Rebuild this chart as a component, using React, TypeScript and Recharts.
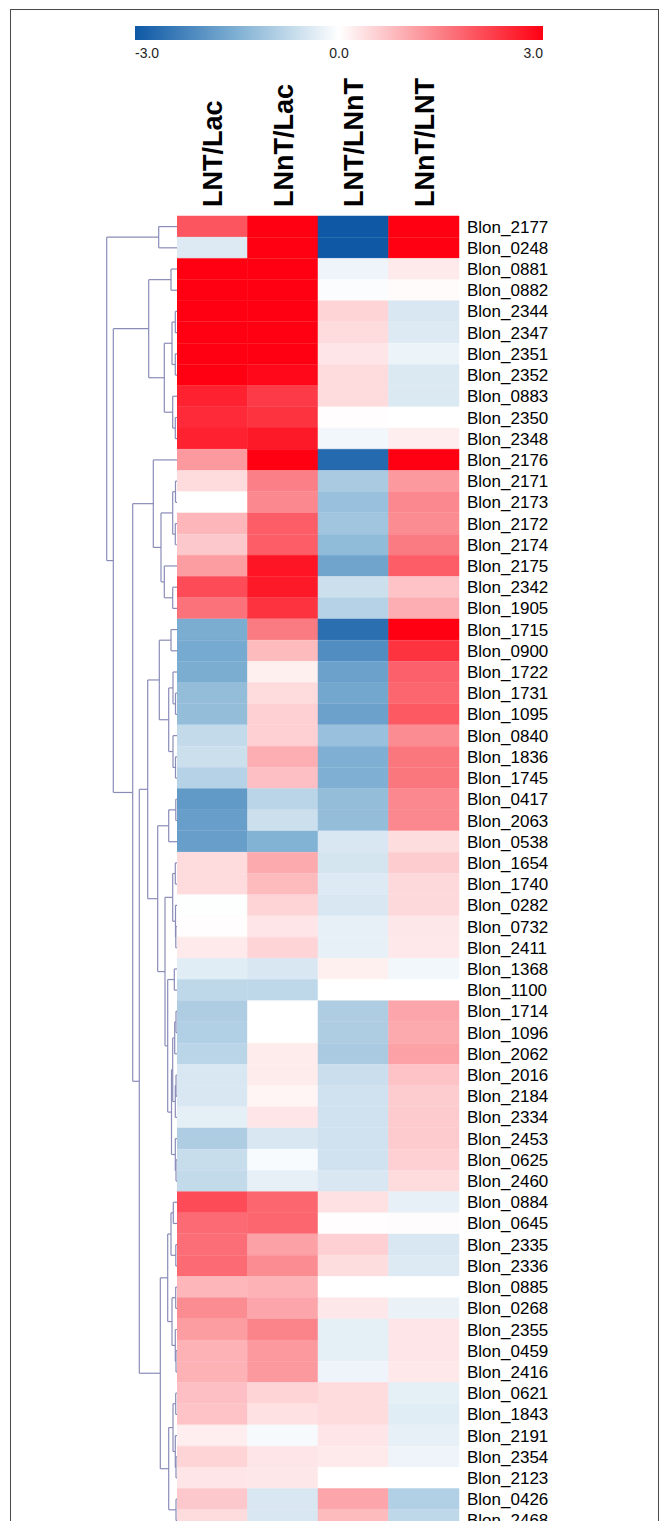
import React from "react";
import {
  Bar,
  BarChart,
  Cell,
  ComposedChart,
  ReferenceLine,
  XAxis,
  YAxis,
} from "recharts";

const genes = [
  "Blon_2177", "Blon_0248", "Blon_0881", "Blon_0882", "Blon_2344", "Blon_2347",
  "Blon_2351", "Blon_2352", "Blon_0883", "Blon_2350", "Blon_2348", "Blon_2176",
  "Blon_2171", "Blon_2173", "Blon_2172", "Blon_2174", "Blon_2175", "Blon_2342",
  "Blon_1905", "Blon_1715", "Blon_0900", "Blon_1722", "Blon_1731", "Blon_1095",
  "Blon_0840", "Blon_1836", "Blon_1745", "Blon_0417", "Blon_2063", "Blon_0538",
  "Blon_1654", "Blon_1740", "Blon_0282", "Blon_0732", "Blon_2411", "Blon_1368",
  "Blon_1100", "Blon_1714", "Blon_1096", "Blon_2062", "Blon_2016", "Blon_2184",
  "Blon_2334", "Blon_2453", "Blon_0625", "Blon_2460", "Blon_0884", "Blon_0645",
  "Blon_2335", "Blon_2336", "Blon_0885", "Blon_0268", "Blon_2355", "Blon_0459",
  "Blon_2416", "Blon_0621", "Blon_1843", "Blon_2191", "Blon_2354", "Blon_2123",
  "Blon_0426", "Blon_2468",
];

const columns = ["LNT/Lac", "LNnT/Lac", "LNT/LNnT", "LNnT/LNT"];

const lntLac = [
  2.0, -0.4, 3, 3, 3, 3, 3, 3, 2.6, 2.5, 2.6,
  1.2, 0.42, 0, 0.85, 0.65, 1.15, 2.1, 1.65,
  -1.55, -1.6, -1.55, -1.25, -1.25, -0.7, -0.6, -0.85, -1.9, -1.8, -1.8,
  0.42, 0.42, -0.02, 0.02, 0.25, -0.35, -0.75, -0.95, -0.9, -0.8, -0.45, -0.45,
  -0.3, -0.95, -0.65, -0.7,
  2.1, 1.75, 1.7, 1.75, 0.85, 1.35, 1.15, 0.9, 0.9, 0.75, 0.7, 0.2, 0.5, 0.3,
  0.65, 0.42,
];

const lnntLac = [
  3, 3, 3, 3, 3, 3, 3, 2.9, 2.3, 2.4, 2.7,
  3, 1.5, 1.4, 1.9, 1.9, 2.75, 2.7, 2.4,
  1.55, 0.8, 0.18, 0.42, 0.55, 0.55, 0.95, 0.75, -0.8, -0.6, -1.45,
  1.0, 0.8, 0.5, 0.3, 0.5, -0.45, -0.75, 0, 0, 0.22, 0.22, 0.12,
  0.3, -0.45, -0.08, -0.28,
  1.8, 1.8, 1.1, 1.35, 0.9, 1.05, 1.45, 1.2, 1.2, 0.5, 0.35, -0.1, 0.3, 0.28,
  -0.45, -0.45,
];

const lntLnnt = [
  -3, -3, -0.2, -0.05, 0.5, 0.42, 0.3, 0.42, 0.42, 0.02, -0.15,
  -2.7, -1.0, -1.2, -1.1, -1.3, -1.7, -0.6, -0.85,
  -2.6, -2.1, -1.75, -1.65, -1.75, -1.2, -1.5, -1.5, -1.25, -1.25, -0.45,
  -0.5, -0.4, -0.45, -0.28, -0.28, 0.18, 0, -0.95, -0.95, -1.0, -0.62, -0.55,
  -0.55, -0.55, -0.55, -0.45,
  0.35, 0.02, 0.55, 0.4, 0, 0.28, -0.3, -0.3, -0.2, 0.42, 0.42, 0.3, 0.25, 0,
  1.05, 0.8,
];

const lnntLnt = [
  3, 3, 0.25, 0.05, -0.45, -0.4, -0.22, -0.42, -0.42, 0, 0.2,
  3, 1.2, 1.4, 1.35, 1.55, 1.9, 0.7, 0.95,
  3, 2.4, 1.85, 1.8, 1.95, 1.35, 1.6, 1.6, 1.4, 1.4, 0.4,
  0.6, 0.45, 0.45, 0.28, 0.27, -0.15, 0, 1.05, 1.0, 1.1, 0.7, 0.6,
  0.62, 0.62, 0.55, 0.42,
  -0.28, 0.03, -0.45, -0.4, 0, -0.25, 0.3, 0.3, 0.27, -0.3, -0.35, -0.28, -0.2, 0,
  -0.9, -0.75,
];

const scaleLabels = ["-3.0", "0.0", "3.0"];

// row clustering: [left, right, height]; ids below 62 are rows, 62 + k is merge k
const linkage: [number, number, number][] = [
  [0, 1, 1.83], [2, 3, 0.6], [4, 5, 0.17], [6, 7, 0.17], [64, 65, 0.5],
  [9, 10, 0.17], [8, 67, 0.43], [66, 68, 1.27], [63, 69, 2.83],
  [12, 13, 0.15], [14, 15, 0.17], [71, 72, 0.43], [17, 18, 0.43], [16, 74, 1.27],
  [73, 75, 1.6], [11, 76, 2.37],
  [19, 20, 0.6], [22, 23, 0.15], [21, 79, 0.4], [25, 26, 0.15], [24, 81, 0.4],
  [80, 82, 0.83], [78, 83, 1.77], [27, 28, 0.12], [85, 29, 0.83], [30, 31, 0.17],
  [33, 34, 0.12], [32, 88, 0.15], [87, 89, 0.43], [35, 36, 0.27], [37, 38, 0.1],
  [92, 39, 0.23], [40, 41, 0.1], [94, 42, 0.17], [93, 95, 0.43], [44, 45, 0.1],
  [43, 97, 0.17], [96, 98, 0.55], [91, 99, 0.93], [90, 100, 1.2], [86, 101, 1.93],
  [84, 102, 2.93],
  [46, 47, 0.37], [48, 49, 0.12], [104, 105, 0.6], [50, 51, 0.13], [53, 54, 0.1],
  [52, 108, 0.17], [107, 109, 0.5], [106, 110, 0.93], [55, 56, 0.13], [58, 59, 0.1],
  [57, 113, 0.17], [112, 114, 0.4], [60, 61, 0.1], [115, 116, 0.83], [111, 117, 1.67],
  [103, 118, 3.77], [77, 119, 4.43], [70, 120, 6.37], [62, 121, 7.03],
];

const FONT = '"Liberation Sans", Arial, Helvetica, sans-serif';
const BLUE = [[255, 255, 255], [127, 176, 211], [14, 88, 165]];
const RED = [[255, 255, 255], [251, 127, 134], [255, 0, 18]];

function heatColor(v: number): string {
  const stops = v < 0 ? BLUE : RED;
  const t = Math.min(Math.abs(v), 3) / 1.5;
  const i = t >= 1 ? 1 : 0;
  const f = t - i;
  const c = stops[i].map((a, k) => Math.round(a + (stops[i + 1][k] - a) * f));
  return `rgb(${c[0]},${c[1]},${c[2]})`;
}

const series = [lntLac, lnntLac, lntLnnt, lnntLnt];
const rows = genes.map((name) => ({ name, c0: 1, c1: 1, c2: 1, c3: 1 }));
const leafPoints = genes.map((_, i) => ({ x: 0, y: i + 0.5 }));

function dendrogramSegments() {
  const pos = leafPoints.map((p) => ({ ...p }));
  const segs: { x: number; y: number }[][] = [];
  linkage.forEach(([a, b, h]) => {
    const pa = pos[a];
    const pb = pos[b];
    segs.push([{ x: h, y: pa.y }, { x: h, y: pb.y }]);
    segs.push([{ x: pa.x, y: pa.y }, { x: h, y: pa.y }]);
    segs.push([{ x: pb.x, y: pb.y }, { x: h, y: pb.y }]);
    pos.push({ x: h, y: (pa.y + pb.y) / 2 });
  });
  return segs;
}

function ColumnTick(props: any) {
  const { x, payload } = props;
  const label = columns[Math.floor(payload.value)];
  const tx = x + 10;
  const ty = 151;
  return (
    <text
      x={tx}
      y={ty}
      transform={`rotate(-90 ${tx} ${ty})`}
      fontSize={27}
      fontWeight="bold"
      fontFamily={FONT}
      fill="#000"
    >
      {label}
    </text>
  );
}

export default function App() {
  const segments = dendrogramSegments();
  const keyText = { position: "absolute" as const, top: 37, fontSize: 14, color: "#222" };

  return (
    <div
      style={{
        position: "relative",
        width: 651,
        height: 1521,
        marginBottom: -8,
        overflow: "hidden",
        fontFamily: FONT,
        background: "#fff",
      }}
    >
      <div
        style={{
          position: "absolute",
          left: 2,
          top: 1,
          width: 649,
          height: 1700,
          border: "1.5px solid #4a4a4a",
          boxSizing: "border-box",
        }}
      />

      {/* colour key */}
      <div
        style={{
          position: "absolute",
          left: 127,
          top: 18,
          width: 408,
          height: 14,
          background:
            "linear-gradient(to right, #0e58a5 0%, #7fb0d3 25%, #ffffff 50%, #fb7f86 75%, #ff0012 100%)",
        }}
      />
      <div style={{ ...keyText, left: 127 }}>{scaleLabels[0]}</div>
      <div style={{ ...keyText, left: 281, width: 100, textAlign: "center" }}>
        {scaleLabels[1]}
      </div>
      <div style={{ ...keyText, left: 435, width: 100, textAlign: "right" }}>
        {scaleLabels[2]}
      </div>

      {/* row dendrogram */}
      <div style={{ position: "absolute", left: 92, top: 208 }}>
        <ComposedChart
          width={77}
          height={1315}
          data={leafPoints}
          margin={{ top: 0, right: 0, bottom: 0, left: 0 }}
        >
          <XAxis type="number" dataKey="x" domain={[0, 7.7]} reversed hide />
          <YAxis type="number" dataKey="y" domain={[0, 62]} reversed hide />
          {segments.map((seg, i) => (
            <ReferenceLine
              key={i}
              segment={seg}
              stroke="#8a8cb8"
              strokeWidth={1.2}
              ifOverflow="visible"
            />
          ))}
        </ComposedChart>
      </div>

      {/* heatmap */}
      <div style={{ position: "absolute", left: 169, top: 48 }}>
        <BarChart
          layout="vertical"
          width={472}
          height={1475}
          data={rows}
          barCategoryGap={0}
          margin={{ top: 0, right: 0, bottom: 0, left: 0 }}
        >
          <XAxis
            type="number"
            domain={[0, 4]}
            orientation="top"
            height={160}
            ticks={[0.5, 1.5, 2.5, 3.5]}
            tick={<ColumnTick />}
            axisLine={false}
            tickLine={false}
          />
          <YAxis
            type="category"
            dataKey="name"
            orientation="right"
            width={190}
            axisLine={false}
            tickLine={false}
            tickSize={0}
            tickMargin={8}
            interval={0}
            tick={{ fill: "#000", fontSize: 17, fontFamily: FONT }}
          />
          {series.map((vals, j) => (
            <Bar
              key={j}
              dataKey={`c${j}`}
              stackId="cells"
              isAnimationActive={false}
            >
              {vals.map((v, i) => (
                <Cell
                  key={i}
                  fill={heatColor(v)}
                  stroke={heatColor(v)}
                  strokeWidth={0.5}
                />
              ))}
            </Bar>
          ))}
        </BarChart>
      </div>
    </div>
  );
}
